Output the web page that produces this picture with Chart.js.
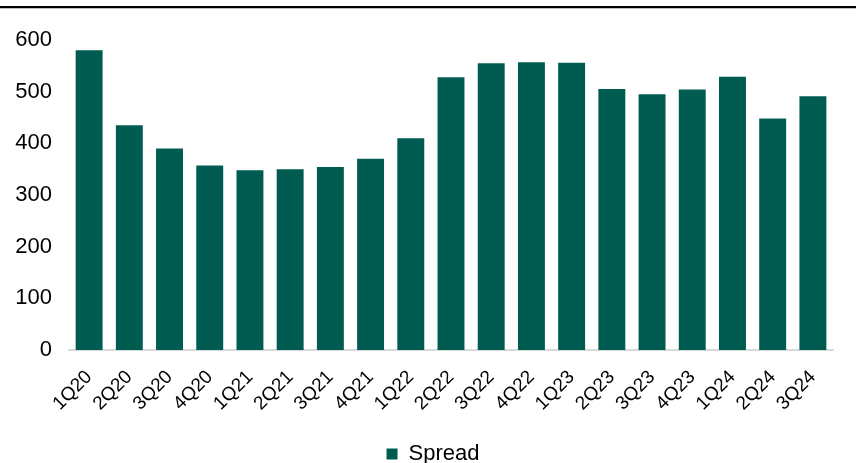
<!DOCTYPE html>
<html>
<head>
<meta charset="utf-8">
<script src="https://cdn.jsdelivr.net/npm/chart.js@4.4.1/dist/chart.umd.min.js"></script>
<style>
  body { margin: 0; background: #fff; }
  #wrap { width: 856px; height: 463px; position: relative; }
</style>
</head>
<body>
<div id="wrap"><canvas id="spreadChart"></canvas></div>
<script>
const quarters = ["1Q20", "2Q20", "3Q20", "4Q20", "1Q21", "2Q21", "3Q21", "4Q21", "1Q22", "2Q22",
  "3Q22", "4Q22", "1Q23", "2Q23", "3Q23", "4Q23", "1Q24", "2Q24", "3Q24"];
const spread = [580, 435, 390, 357, 348, 350, 354, 370, 410, 528,
  555, 557, 556, 505, 495, 504, 529, 448, 491];
const yTicks = [0, 100, 200, 300, 400, 500, 600];

const barGreen = "#005c50";
const labelFont = { family: "'Liberation Sans', Arial", size: 22 };
const quarterFont = { family: "'Liberation Sans', Arial", size: 19 };

// heavy rule across the top of the panel
const topRule = {
  id: "topRule",
  beforeDraw(chart) {
    const ctx = chart.ctx;
    ctx.save();
    ctx.fillStyle = "#000";
    ctx.fillRect(0, 6, chart.width, 2);
    ctx.fillStyle = "#bfbfbf";
    ctx.fillRect(0, 8, chart.width, 1);
    ctx.restore();
  }
};

// nudge the legend a little to the right
const legendNudge = {
  id: "legendNudge",
  afterLayout(chart) {
    if (chart.legend) {
      chart.legend.left += 9;
      chart.legend.right += 9;
    }
  }
};

new Chart("spreadChart", {
  type: "bar",
  data: {
    labels: quarters,
    datasets: [{
      label: "Spread",
      data: spread,
      backgroundColor: barGreen,
      categoryPercentage: 1,
      barPercentage: 0.67
    }]
  },
  options: {
    responsive: true,
    maintainAspectRatio: false,
    animation: false,
    layout: { padding: { top: 40, left: 15, right: 23, bottom: -12 } },
    plugins: {
      legend: {
        position: "bottom",
        labels: {
          boxWidth: 11,
          boxHeight: 11,
          padding: 2,
          color: "#000",
          font: labelFont
        }
      },
      tooltip: { enabled: false }
    },
    scales: {
      x: {
        grid: { display: false, drawTicks: false },
        border: { color: "#d9d9d9", width: 2 },
        afterFit(scale) {
          // keep the rotated labels from pushing the plot inwards
          scale.paddingLeft = 0;
          scale.paddingRight = 0;
          scale.height = 91;
        },
        ticks: {
          color: "#000",
          autoSkip: false,
          minRotation: 45,
          maxRotation: 45,
          padding: 16,
          font: quarterFont
        }
      },
      y: {
        min: yTicks[0],
        max: yTicks[yTicks.length - 1],
        grid: { display: false, drawTicks: false },
        border: { display: false },
        afterBuildTicks(axis) {
          axis.ticks = yTicks.map(v => ({ value: v }));
        },
        afterFit(scale) {
          scale.width = 54;
        },
        ticks: {
          color: "#000",
          padding: 17,
          font: labelFont
        }
      }
    }
  },
  plugins: [topRule, legendNudge]
});
</script>
</body>
</html>
